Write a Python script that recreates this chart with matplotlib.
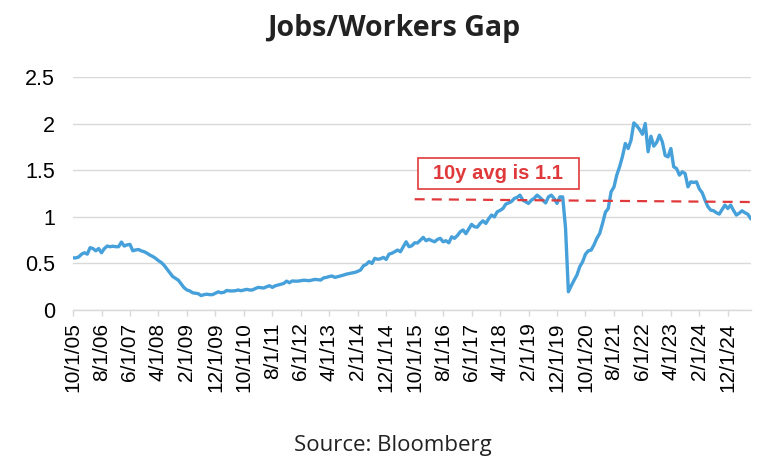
"""
Jobs/Workers Gap line chart with a 10y-average dashed reference line.
"""
import matplotlib
matplotlib.use("Agg")
import matplotlib.pyplot as plt
from matplotlib.patches import Rectangle
import pandas as pd

# monthly values, first point 10/1/2005
start_month = "2005-10-01"
gap_values = [
    0.56, 0.56, 0.57, 0.60, 0.615, 0.60, 0.67, 0.66, 0.636, 0.66, 0.615, 0.66,
    0.687, 0.68, 0.685, 0.68, 0.68, 0.73, 0.687, 0.70, 0.705, 0.636, 0.645, 0.65,
    0.635, 0.626, 0.61, 0.59, 0.575, 0.555, 0.53, 0.51, 0.48, 0.44, 0.40, 0.36,
    0.34, 0.32, 0.28, 0.24, 0.215, 0.205, 0.185, 0.18, 0.175, 0.155, 0.165, 0.17,
    0.165, 0.165, 0.18, 0.195, 0.185, 0.19, 0.21, 0.205, 0.205, 0.207, 0.215, 0.207,
    0.215, 0.222, 0.215, 0.215, 0.23, 0.243, 0.24, 0.236, 0.25, 0.261, 0.243, 0.26,
    0.268, 0.275, 0.285, 0.31, 0.293, 0.312, 0.31, 0.31, 0.315, 0.32, 0.318, 0.315,
    0.322, 0.329, 0.325, 0.322, 0.345, 0.35, 0.36, 0.365, 0.35, 0.358, 0.365, 0.375,
    0.385, 0.392, 0.398, 0.404, 0.415, 0.43, 0.475, 0.49, 0.52, 0.50, 0.555, 0.545,
    0.55, 0.565, 0.544, 0.60, 0.61, 0.626, 0.644, 0.626, 0.68, 0.733, 0.68, 0.69,
    0.722, 0.72, 0.75, 0.78, 0.744, 0.76, 0.745, 0.733, 0.758, 0.77, 0.733, 0.744,
    0.722, 0.786, 0.77, 0.80, 0.84, 0.86, 0.82, 0.87, 0.92, 0.894, 0.89, 0.93,
    0.958, 0.93, 0.98, 1.02, 1.00, 1.055, 1.07, 1.09, 1.137, 1.15, 1.165, 1.198,
    1.21, 1.234, 1.18, 1.162, 1.145, 1.18, 1.20, 1.234, 1.209, 1.18, 1.15, 1.215,
    1.234, 1.198, 1.145, 1.215, 1.215, 0.88, 0.196, 0.26, 0.32, 0.376, 0.465, 0.518,
    0.60, 0.636, 0.644, 0.70, 0.77, 0.823, 0.93, 1.05, 1.09, 1.27, 1.32, 1.45,
    1.54, 1.65, 1.789, 1.735, 1.824, 2.01, 1.98, 1.94, 1.888, 2.003, 1.70, 1.867,
    1.76, 1.80, 1.878, 1.806, 1.66, 1.645, 1.735, 1.538, 1.52, 1.449, 1.484, 1.466,
    1.323, 1.377, 1.37, 1.377, 1.30, 1.26, 1.18, 1.11, 1.073, 1.066, 1.045, 1.03,
    1.08, 1.127, 1.09, 1.127, 1.07, 1.02, 1.04, 1.066, 1.045, 1.03, 0.984,
]

# dashed "10y avg" reference: starts at 10/1/2015, runs to the last month
avg_start_index = 120
avg_line_values = [1.19, 1.16]
avg_label = "10y avg is 1.1"

title = "Jobs/Workers Gap"
source = "Source: Bloomberg"
y_ticks = [0, 0.5, 1, 1.5, 2, 2.5]
tick_every = 10

BLUE = "#46A0DA"
RED = "#E0393B"
GRID = "#D9D9D9"
TICK_FONT = "Liberation Sans"

months = pd.date_range(start=start_month, periods=len(gap_values), freq="MS")
x = list(range(len(gap_values)))
tick_pos = x[::tick_every]
tick_labels = [f"{d.month}/1/{d.strftime('%y')}" for d in months[::tick_every]]

fig = plt.figure(figsize=(7.77, 4.73), dpi=100)
ax = fig.add_axes([0.094, 0.3446, 0.872, 0.492])

ax.plot(x, gap_values, color=BLUE, linewidth=2.4, solid_joinstyle="round", zorder=3)
ax.plot([avg_start_index, x[-1]], avg_line_values, color=RED, linewidth=1.6,
        dashes=(4.5, 3.2), zorder=4)

# label box for the average line
box = Rectangle((121.0, 1.298), 56.6, 0.336, facecolor="white", edgecolor=RED,
                linewidth=1.2, zorder=5)
ax.add_patch(box)
ax.text(149.3, 1.463, avg_label, color=RED, fontsize=14.5, fontweight="bold",
        family=TICK_FONT, ha="center", va="center", zorder=6)

ax.set_xlim(0, x[-1])
ax.set_ylim(0, 2.5)
ax.set_yticks(y_ticks)
ax.set_yticklabels([f"{v:g}" for v in y_ticks])
ax.set_xticks(tick_pos)
ax.set_xticklabels(tick_labels, rotation=90)

ax.grid(axis="y", color=GRID, linewidth=1.0)
ax.set_axisbelow(True)
for side in ["top", "right", "left"]:
    ax.spines[side].set_visible(False)
ax.spines["bottom"].set_color(GRID)
ax.spines["bottom"].set_linewidth(1.0)

ax.tick_params(axis="y", length=0, pad=13, labelsize=15.5)
ax.tick_params(axis="x", length=4, color=GRID, width=1.0, pad=5, labelsize=15)
for lbl in ax.get_xticklabels() + ax.get_yticklabels():
    lbl.set_family(TICK_FONT)

fig.text(0.506, 0.94, title, ha="center", va="center", fontsize=20.5,
         fontweight="bold", family="Open Sans", color="#222222")
fig.text(0.506, 0.059, source, ha="center", va="center", fontsize=16,
         family="Open Sans", color="#222222")

fig.savefig("out.png", dpi=100)
plt.close(fig)
